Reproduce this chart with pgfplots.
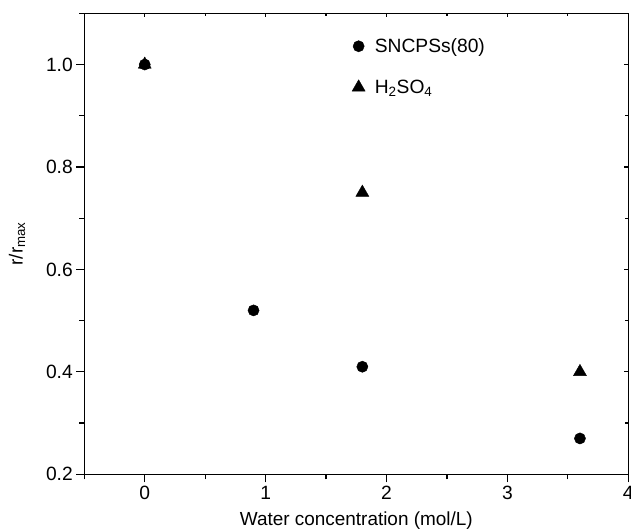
\documentclass[border=0pt]{standalone}
\usepackage{pgfplots}
\pgfplotsset{compat=1.18}
\usepackage{fontspec}
\setmainfont{Liberation Sans}
\begin{document}
\begin{tikzpicture}
\pgfplotsset{common/.style={
  scale only axis,
  width=544bp, height=461bp,
  xmin=-0.5, xmax=4, ymin=0.2, ymax=1.1,
  xtick={0,1,2,3,4}, ytick={0.2,0.4,0.6,0.8,1.0},
  minor xtick={-0.5,0.5,1.5,2.5,3.5},
  minor ytick={0.3,0.5,0.7,0.9,1.1},
  axis line style={line width=1.2pt},
}}
\begin{axis}[common, name=ax,
  yticklabel style={/pgf/number format/.cd,fixed,fixed zerofill,precision=1},
  /pgf/number format/assume math mode=true,
  tick label style={font=\fontsize{19.3}{21}\selectfont},
  label style={font=\fontsize{19}{21}\selectfont},
  xlabel={Water concentration (mol/L)},
  ylabel={r/r\textsubscript{max}},
  xlabel style={yshift=-6pt},
  ylabel style={yshift=14pt},
  every tick/.style={black, line width=1.2pt},
  major tick length=8bp, minor tick length=5bp,
  tick align=outside,
  xtick pos=bottom, ytick pos=left,
  legend style={draw=none, fill=none, at={(axis cs:1.714,1.055)}, anchor=north west,
    font=\fontsize{19.3}{21}\selectfont, row sep=22pt, inner sep=0pt},
  legend cell align=left,
  legend image code/.code={\draw[#1] plot coordinates {(0cm,0cm)}; \path (-6bp,0) (14bp,0);},
]
\addplot[only marks, mark=*, mark size=5.6bp, black] coordinates {
(0,1.0) (0.9,0.52) (1.8,0.41) (3.6,0.27)};
\addlegendentry{SNCPSs(80)}
\addplot[only marks, mark=triangle*, mark size=7.5bp, black] coordinates {
(0,1.0) (1.8,0.75) (3.6,0.40)};
\addlegendentry{H\textsubscript{2}SO\textsubscript{4}}
\end{axis}
\begin{axis}[common,
  xticklabels={}, yticklabels={},
  every tick/.style={black, line width=1.2pt},
  major tick length=4bp, minor tick length=3bp,
  tick align=inside,
  xtick pos=top, ytick pos=right,
]
\end{axis}
\pgfresetboundingbox
\path[use as bounding box] ([xshift=-84.3bp,yshift=-54.7bp]ax.south west) rectangle ([xshift=2.7bp,yshift=13.3bp]ax.north east);
\end{tikzpicture}
\end{document}
